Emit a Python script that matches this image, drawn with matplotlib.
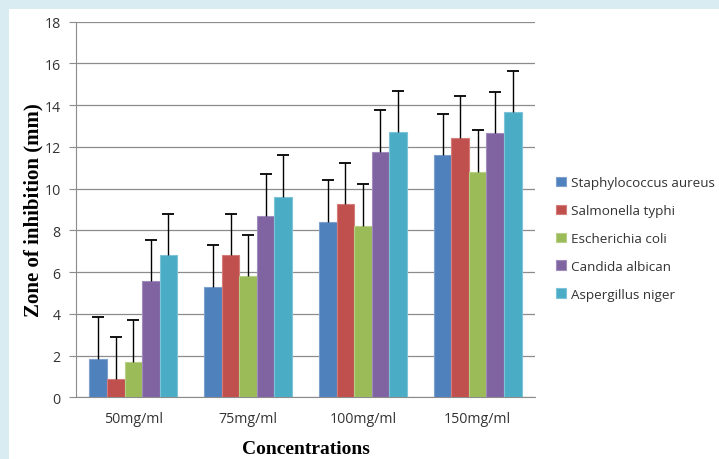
import numpy as np
import matplotlib.pyplot as plt
from matplotlib.patches import Rectangle

concentrations = ["50mg/ml", "75mg/ml", "100mg/ml", "150mg/ml"]
organisms = ["Staphylococcus aureus", "Salmonella typhi", "Escherichia coli",
             "Candida albican", "Aspergillus niger"]

staph = [1.85, 5.3, 8.4, 11.6]
salmonella = [0.9, 6.8, 9.25, 12.45]
ecoli = [1.7, 5.8, 8.2, 10.8]
candida = [5.55, 8.7, 11.75, 12.65]
aspergillus = [6.8, 9.6, 12.7, 13.65]
errors = [2.0, 2.0, 2.0, 2.0]

series = [staph, salmonella, ecoli, candida, aspergillus]
colors = ["#4F81BD", "#C0504D", "#9BBB59", "#8064A2", "#4BACC6"]
edges = ["#7DA0CF", "#D47D7B", "#B7CF86", "#A08DBE", "#7DC4D8"]

fig = plt.figure(figsize=(7.19, 4.6), dpi=100)
fig.patch.set_facecolor("white")

# light blue frame on left and top
fig.patches.append(Rectangle((0, 0), 9 / 719, 1, transform=fig.transFigure,
                             facecolor="#D9ECF2", edgecolor="none", zorder=0))
fig.patches.append(Rectangle((0, 1 - 10 / 460), 1, 10 / 460, transform=fig.transFigure,
                             facecolor="#D9ECF2", edgecolor="none", zorder=0))

ax = fig.add_axes([76 / 719, 61.7 / 460, 459 / 719, 375.6 / 460])

x = np.arange(len(concentrations))
w = 0.153
for i, (vals, name) in enumerate(zip(series, organisms)):
    pos = x + (i - 2) * w
    ax.bar(pos, vals, width=w, color=colors[i], edgecolor=edges[i], linewidth=0.8,
           label=name, zorder=3)
    # upper error bars only
    tops = np.array(vals) + np.array(errors)
    ax.vlines(pos, vals, tops, color="black", linewidth=1, zorder=4)
    ax.plot(pos, tops, linestyle="none", marker="_", markersize=8,
            markeredgewidth=1.3, color="black", zorder=4)

ax.set_xlim(-0.5, len(concentrations) - 0.5)
ax.set_ylim(0, 18)
ax.set_yticks(range(0, 19, 2))
ax.set_xticks(x)
ax.set_xticklabels(concentrations, fontfamily="Open Sans", fontsize=10.2, color="#333333")
for lab in ax.get_yticklabels():
    lab.set_fontfamily("Open Sans")
    lab.set_fontsize(10.2)
    lab.set_color("#333333")

ax.grid(axis="y", color="#8C8C8C", linewidth=0.9, zorder=0)
for s in ["top", "right"]:
    ax.spines[s].set_visible(False)
ax.spines["left"].set_color("#8C8C8C")
ax.spines["bottom"].set_color("#8C8C8C")
ax.tick_params(axis="y", length=5, color="#8C8C8C", pad=6)
ax.tick_params(axis="x", length=0, pad=10)

ax.set_ylabel("Zone of inhibition (mm)", fontfamily="Liberation Serif",
              fontweight="bold", fontsize=15, labelpad=1)
ax.set_xlabel("Concentrations", fontfamily="Liberation Serif",
              fontweight="bold", fontsize=14, labelpad=10)

leg = ax.legend(loc="center left", bbox_to_anchor=(1.035, 0.4225), frameon=False,
                prop={"family": "Open Sans", "size": 9.7}, handlelength=0.7,
                handleheight=0.7, handletextpad=0.4, labelspacing=1.1,
                borderaxespad=0)
for t in leg.get_texts():
    t.set_color("#333333")

fig.savefig("out.png", dpi=100)
